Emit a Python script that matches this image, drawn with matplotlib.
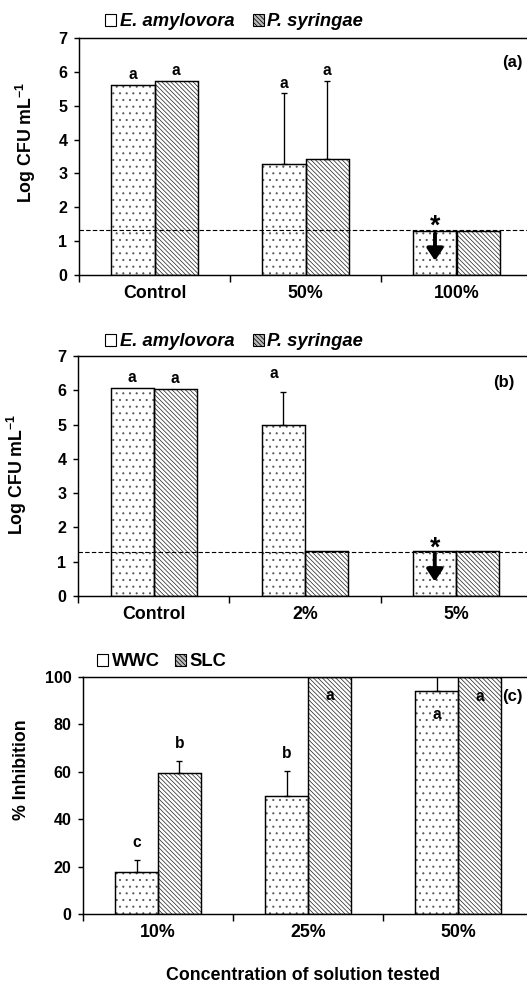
import matplotlib
matplotlib.use('Agg')
import matplotlib.pyplot as plt
from matplotlib.patches import Patch
import numpy as np

plt.rcParams['font.family'] = ['Liberation Sans', 'DejaVu Sans']
plt.rcParams['font.weight'] = 'bold'
plt.rcParams['mathtext.fontset'] = 'custom'
plt.rcParams['mathtext.rm'] = 'Liberation Sans:bold'
plt.rcParams['mathtext.bf'] = 'Liberation Sans:bold'
plt.rcParams['mathtext.default'] = 'rm'
plt.rcParams['hatch.linewidth'] = 0.7

DPI = 80
W, H = 527, 982

# ---------------- data ----------------
cats_a = ['Control', '50%', '100%']
ea_a = [5.62, 3.28, 1.30]
ea_a_err = [0.0, 2.09, 0.0]
ps_a = [5.73, 3.43, 1.30]
ps_a_err = [0.0, 2.30, 0.0]
let_ea_a = ['a', 'a', '']
let_ps_a = ['a', 'a', '']
lod_a = 1.33

cats_b = ['Control', '2%', '5%']
ea_b = [6.08, 4.99, 1.30]
ea_b_err = [0.0, 0.97, 0.0]
ps_b = [6.05, 1.30, 1.30]
ps_b_err = [0.0, 0.0, 0.0]
let_ea_b = ['a', 'a', '']
let_ps_b = ['a', '', '']
lod_b = 1.27

cats_c = ['10%', '25%', '50%']
wwc = [17.6, 50.0, 94.1]
wwc_err = [5.2, 10.4, 8.0]
slc = [59.4, 100.0, 100.0]
slc_err = [5.2, 0.0, 0.0]
let_wwc = ['c', 'b', 'a']
let_slc = ['b', 'a', 'a']

series_ab = ['E. amylovora', 'P. syringae']
series_c = ['WWC', 'SLC']

# ---------------- style ----------------
DOT = '..'
LINES = chr(92) * 6
BW = 0.285
SPINE_LW = 1.3

fig = plt.figure(figsize=(W / DPI, H / DPI), dpi=DPI)


def px_rect(left, top, right, bottom):
    return [left / W, 1 - bottom / H, (right - left) / W, (bottom - top) / H]


def draw_bars(ax, xpos, vals, hatch, hcolor):
    ax.bar(xpos, vals, BW, facecolor='white', edgecolor=hcolor, hatch=hatch,
           linewidth=0, zorder=2)
    ax.bar(xpos, vals, BW, fill=False, edgecolor='black', linewidth=SPINE_LW,
           zorder=3)


def draw_err(ax, xpos, vals, errs):
    xs = [x for x, e in zip(xpos, errs) if e > 0]
    vs = [v for v, e in zip(vals, errs) if e > 0]
    es = [e for e in errs if e > 0]
    if xs:
        ax.errorbar(xs, vs, yerr=[np.zeros(len(es)), es], fmt='none',
                    ecolor='black', elinewidth=1.2, capsize=3, capthick=1.2,
                    zorder=4)


def draw_letters(ax, xpos, vals, errs, letters, offsets, size):
    for x, v, e, t, (dx, dy) in zip(xpos, vals, errs, letters, offsets):
        if not t:
            continue
        anchor = v + e if dy > 0 else v
        ax.annotate(t, (x, anchor), xytext=(dx, dy), textcoords='offset points',
                    ha='center', va='baseline', fontsize=size,
                    fontweight='bold', zorder=6, annotation_clip=False)


def setup_axes(ax, cats, ylim, yticks):
    ax.set_xlim(-0.5, 2.5)
    ax.set_ylim(*ylim)
    ax.set_yticks(yticks)
    ax.set_xticks([-0.5, 0.5, 1.5, 2.5])
    ax.set_xticklabels([])
    ax.set_xticks([0, 1, 2], minor=True)
    ax.set_xticklabels(cats, minor=True, fontsize=16, fontweight='bold')
    ax.tick_params(axis='x', which='major', direction='out', length=6,
                   width=SPINE_LW)
    ax.tick_params(axis='x', which='minor', length=0, pad=9)
    ax.tick_params(axis='y', direction='out', length=4.5, width=SPINE_LW,
                   pad=6, labelsize=14.5)
    for lab in ax.get_yticklabels():
        lab.set_fontweight('bold')
    for s in ax.spines.values():
        s.set_linewidth(SPINE_LW)
        s.set_color('black')


def add_legend(ax, labels, xpx, ypx, italic, colsp):
    handles = [Patch(facecolor='white', edgecolor='black', hatch=None,
                     linewidth=1.0),
               Patch(facecolor='#bdbdbd', edgecolor='black', hatch=LINES,
                     linewidth=1.0)]
    leg = ax.legend(handles, labels, loc='center left',
                    bbox_to_anchor=(xpx / W, 1 - ypx / H),
                    bbox_transform=fig.transFigure, ncol=2, frameon=False,
                    borderpad=0, borderaxespad=0, handlelength=0.6,
                    handleheight=0.6, handletextpad=0.2, columnspacing=colsp,
                    prop={'size': 16.5, 'weight': 'bold',
                          'style': 'italic' if italic else 'normal'})
    return leg


def lod_marks(ax, x, lod):
    ax.axhline(lod, color='black', lw=1.0, ls=(0, (4, 2)), zorder=5)
    ax.annotate('', xy=(x, 0.42), xytext=(x, 1.22),
                arrowprops=dict(arrowstyle='-|>,head_length=0.45,head_width=0.3',
                                color='black', lw=3.5, shrinkA=0, shrinkB=0,
                                mutation_scale=20),
                zorder=6)
    ax.annotate('*', (x, lod), xytext=(0, -3), textcoords='offset points',
                ha='center', va='baseline', fontsize=24, fontweight='bold',
                zorder=6)


x = np.arange(3)

# ---------------- panel (a) ----------------
axa = fig.add_axes(px_rect(79, 38, 532, 275))
draw_bars(axa, x - BW / 2, ea_a, DOT, '#555555')
draw_bars(axa, x + BW / 2, ps_a, LINES, '#333333')
draw_err(axa, x - BW / 2, ea_a, ea_a_err)
draw_err(axa, x + BW / 2, ps_a, ps_a_err)
draw_letters(axa, x - BW / 2, ea_a, ea_a_err, let_ea_a, [(0, 5)] * 3, 14)
draw_letters(axa, x + BW / 2, ps_a, ps_a_err, let_ps_a, [(0, 5)] * 3, 14)
lod_marks(axa, 2 - BW / 2, lod_a)
setup_axes(axa, cats_a, (0, 7), range(0, 8))
add_legend(axa, series_ab, 105, 22, True, 1.0)
fig.text(26 / W, 1 - 142 / H, r'Log CFU mL$^{-1}$', rotation=90, ha='center',
         va='center', fontsize=16, fontweight='bold')
fig.text(502 / W, 1 - 62 / H, '(a)', ha='left', va='center', fontsize=15,
         fontweight='bold')

# ---------------- panel (b) ----------------
axb = fig.add_axes(px_rect(78, 356, 532, 596))
draw_bars(axb, x - BW / 2, ea_b, DOT, '#555555')
draw_bars(axb, x + BW / 2, ps_b, LINES, '#333333')
draw_err(axb, x - BW / 2, ea_b, ea_b_err)
draw_err(axb, x + BW / 2, ps_b, ps_b_err)
draw_letters(axb, x - BW / 2, ea_b, ea_b_err, let_ea_b,
             [(0, 5), (-9, 12), (0, 5)], 14)
draw_letters(axb, x + BW / 2, ps_b, ps_b_err, let_ps_b, [(0, 5)] * 3, 14)
lod_marks(axb, 2 - BW / 2, lod_b)
setup_axes(axb, cats_b, (0, 7), range(0, 8))
add_legend(axb, series_ab, 105, 342, True, 1.0)
fig.text(17 / W, 1 - 474 / H, r'Log CFU mL$^{-1}$', rotation=90, ha='center',
         va='center', fontsize=16, fontweight='bold')
fig.text(493 / W, 1 - 383 / H, '(b)', ha='left', va='center', fontsize=15,
         fontweight='bold')

# ---------------- panel (c) ----------------
axc = fig.add_axes(px_rect(83, 677, 533, 914))
draw_bars(axc, x - BW / 2, wwc, DOT, '#555555')
draw_bars(axc, x + BW / 2, slc, LINES, '#333333')
draw_err(axc, x - BW / 2, wwc, wwc_err)
draw_err(axc, x + BW / 2, slc, slc_err)
draw_letters(axc, x - BW / 2, wwc, wwc_err, let_wwc,
             [(0, 11.5), (0, 11.5), (0, -25)], 14)
draw_letters(axc, x + BW / 2, slc, slc_err, let_slc,
             [(0, 11.5), (0, -21), (0, -22)], 14)
setup_axes(axc, cats_c, (0, 100), range(0, 101, 20))
add_legend(axc, series_c, 97, 662, False, 0.85)
fig.text(22 / W, 1 - 770 / H, '% Inhibition', rotation=90, ha='center',
         va='center', fontsize=16, fontweight='bold')
fig.text(502 / W, 1 - 697 / H, '(c)', ha='left', va='center', fontsize=15,
         fontweight='bold')
fig.text(303 / W, 1 - 975 / H, 'Concentration of solution tested', ha='center',
         va='center', fontsize=16, fontweight='bold')

fig.savefig('out.png', dpi=DPI)
